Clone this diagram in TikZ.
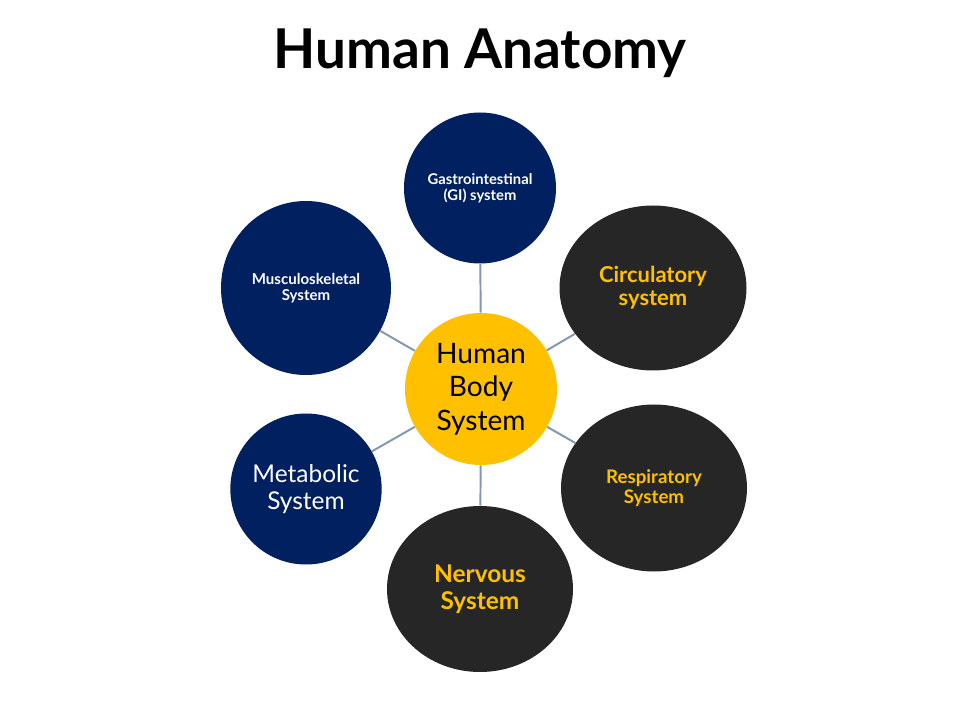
\documentclass[tikz,border=0pt]{standalone}
\usepackage{fontspec}
\setmainfont{Lato}
\usetikzlibrary{shapes.geometric}
\definecolor{navy}{HTML}{002060}
\definecolor{coal}{HTML}{262626}
\definecolor{gold}{HTML}{FFC000}
\definecolor{spokegray}{HTML}{8497B0}
\tikzset{
  organ/.style={ellipse, inner sep=0pt, align=center},
  bluesys/.style={organ, fill=navy, text=white},
  darksys/.style={organ, fill=coal, text=gold},
  spoke/.style={draw=spokegray, line width=1.4pt}
}
\newcommand{\organnode}[7]{\node[#6, minimum width=#4*0.025cm, minimum height=#5*0.025cm] (#1) at (#2,#3) {#7};}
\newcommand{\spoke}[2]{\draw[spoke] (#1) -- (#2);}

\begin{document}
\begin{tikzpicture}[x=0.025cm,y=-0.025cm]
    \useasboundingbox (0,0) rectangle (960,720);
    \node[font=\bfseries\fontsize{39}{45}\selectfont] (title) at (480,53) {Human Anatomy};

    \organnode{Body}{481}{389}{152}{152}{organ,fill=gold,text=black,font=\fontsize{20}{23.8}\selectfont}{Human\\Body\\System}
    \organnode{GI}{480}{188}{152}{151}{bluesys,font=\bfseries\fontsize{10.5}{11.4}\selectfont}{Gastrointestinal\\(GI) system}
    \organnode{Circ}{653}{288}{187}{165}{darksys,font=\bfseries\fontsize{15.6}{16.4}\selectfont}{Circulatory\\system}
    \organnode{Resp}{654}{488}{186}{167}{darksys,font=\bfseries\fontsize{13.3}{14.2}\selectfont}{Respiratory\\System}
    \organnode{Nerv}{480}{589}{186}{166}{darksys,font=\bfseries\fontsize{17.4}{19.2}\selectfont}{Nervous\\System}
    \organnode{Meta}{306}{489}{151}{151}{bluesys,font=\fontsize{17.4}{19.2}\selectfont}{Metabolic\\System}
    \organnode{Musc}{306}{288}{170}{174}{bluesys,font=\bfseries\fontsize{10.7}{11.4}\selectfont}{Musculoskeletal\\System}

    \spoke{Body}{GI}\spoke{Body}{Circ}\spoke{Body}{Resp}
    \spoke{Body}{Nerv}\spoke{Body}{Meta}\spoke{Body}{Musc}
\end{tikzpicture}
\end{document}
